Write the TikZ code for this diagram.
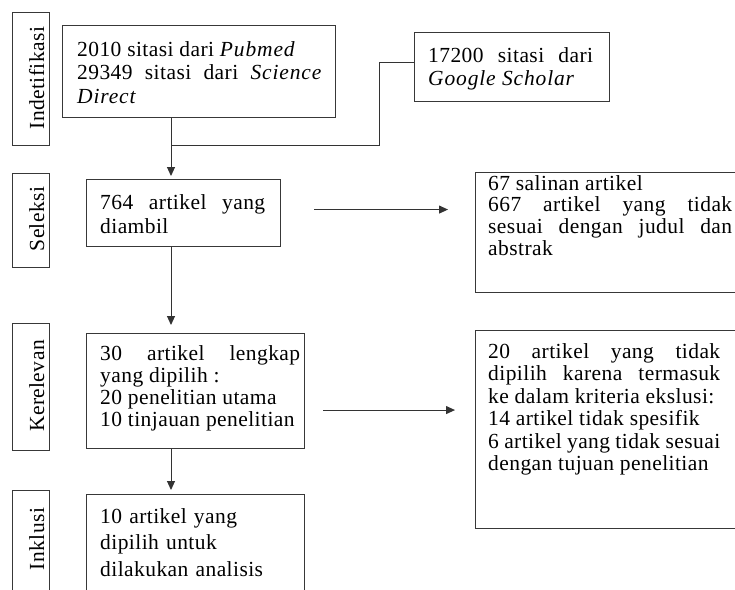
\documentclass[tikz,border=0pt]{standalone}
\usepackage{fontspec}
\setmainfont{Liberation Serif}[LetterSpace=2, ItalicFeatures={LetterSpace=4}]
\usetikzlibrary{arrows.meta}
\tikzset{
  box/.style={draw=black!78, line width=1.1pt, inner sep=0pt, anchor=north west},
  txt/.style={anchor=base west, inner sep=0pt, align=justify, text=black},
  lbltxt/.style={rotate=90, anchor=base, inner sep=0pt, text=black},
  conn/.style={draw=black!80, line width=1pt},
  arr/.style={conn, -{Triangle[length=9pt,width=8pt]}}
}
\newcommand{\fs}[1]{\fontsize{21.5}{#1}\selectfont}
\begin{document}
\begin{tikzpicture}[x=1pt,y=-1pt]
\useasboundingbox (0,0) rectangle (735,589);
% stage labels
\node[box, minimum width=37pt, minimum height=133pt] (L1) at (12,12) {};
\node[box, minimum width=37pt, minimum height=94pt] (L2) at (12,173) {};
\node[box, minimum width=37pt, minimum height=127pt] (L3) at (12,323) {};
\node[box, minimum width=37pt, minimum height=120pt] (L4) at (12,490) {};
\node[lbltxt, font=\fs{24}] (t1) at (44,78) {Indetifikasi};
\node[lbltxt, font=\fs{24}] (t2) at (44,219) {Seleksi};
\node[lbltxt, font=\fs{24}] (t3) at (44,386) {Kerelevan};
\node[lbltxt, font=\fs{24}] (t4) at (44,539) {Inklusi};
% boxes
\node[box, minimum width=273pt, minimum height=92pt] (B1) at (62,25) {};
\node[box, minimum width=195pt, minimum height=69pt] (G) at (414,32) {};
\node[box, minimum width=194pt, minimum height=67pt] (B2) at (86,179) {};
\node[box, minimum width=218pt, minimum height=115pt] (B3) at (86,333) {};
\node[box, minimum width=218pt, minimum height=120pt] (B4) at (86,494) {};
\node[box, minimum width=280pt, minimum height=120pt] (R1) at (475,172) {};
\node[box, minimum width=280pt, minimum height=198pt] (R2) at (475,330) {};
% texts
\node[txt, text width=245pt, font=\fs{23.5}] (x1) at (77,56)
  {2010 sitasi dari \textit{Pubmed}\\ 29349 sitasi dari \textit{Science}\linebreak \textit{Direct}};
\node[txt, text width=165pt, font=\fs{23}] (x2) at (428,62)
  {17200 sitasi dari\linebreak \textit{Google Scholar}};
\node[txt, text width=165pt, font=\fs{24}] (x3) at (100,209)
  {764 artikel yang\linebreak diambil};
\node[txt, text width=200pt, font=\fs{22.2}] (x4) at (100,360)
  {30 artikel lengkap\linebreak yang dipilih :\\ 20 penelitian utama\\ 10 tinjauan penelitian};
\node[txt, text width=200pt, align=left, font=\fs{26.5}] (x5) at (100,523)
  {10 artikel yang\\ dipilih untuk\\ dilakukan analisis};
\node[txt, text width=244pt, font=\fs{21.7}] (x6) at (488,190)
  {67 salinan artikel\\ 667 artikel yang tidak\linebreak sesuai dengan judul dan\linebreak abstrak};
\node[txt, text width=232pt, font=\fs{22.5}] (x7) at (488,358)
  {20 artikel yang tidak\linebreak dipilih karena termasuk\linebreak ke dalam kriteria ekslusi:\\ 14 artikel tidak spesifik\\ 6 artikel yang tidak sesuai\\ dengan tujuan penelitian};
% connectors
\coordinate (col) at (171,0);
\coordinate (j) at (379,145);
\draw[arr, shorten >=3pt] (B1.south -| col) -- (B2.north -| col);
\draw[conn] ([yshift=4.5pt]G.west) -| (j) -- (j -| col);
\draw[arr, shorten >=8pt] (B2.south -| col) -- (B3.north -| col);
\draw[arr, shorten >=4pt] (B3.south -| col) -- (B4.north -| col);
\draw[arr, shorten <=33pt, shorten >=27pt] ([yshift=3.5pt]B2.east) -- ([yshift=3.5pt]B2.east -| R1.west);
\draw[arr, shorten <=18pt, shorten >=20pt] ([yshift=-19pt]B3.east) -- ([yshift=-19pt]B3.east -| R2.west);
\end{tikzpicture}
\end{document}
